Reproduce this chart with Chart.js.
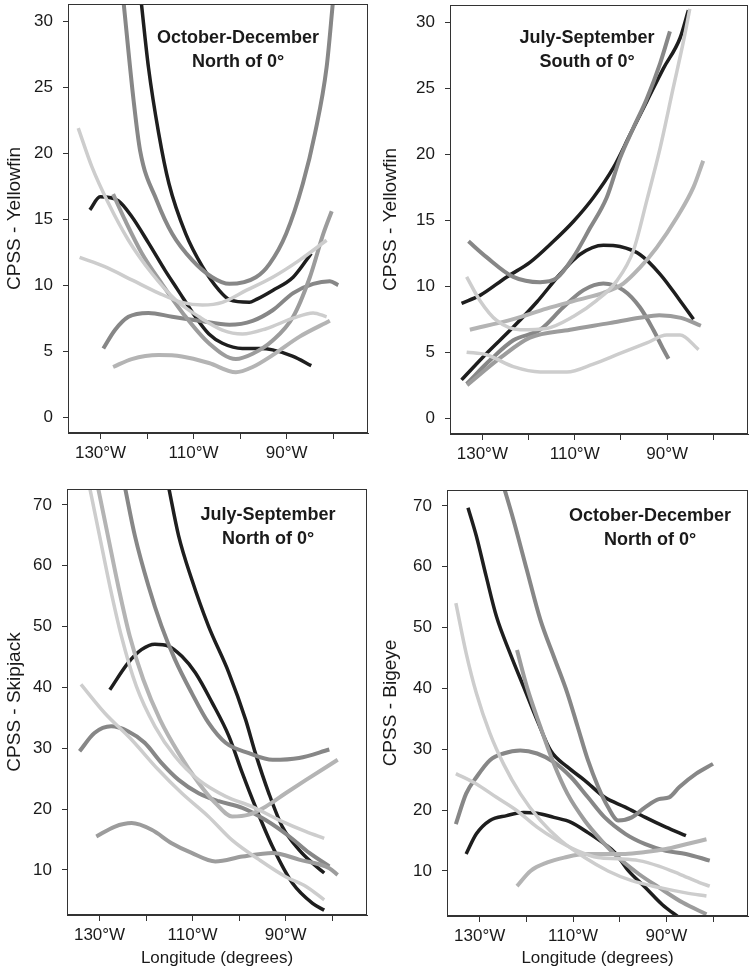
<!DOCTYPE html>
<html lang="en">
<head>
<meta charset="UTF-8">
<title>CPSS by longitude</title>
<script src="https://cdn.jsdelivr.net/npm/chart.js@4.4.1/dist/chart.umd.min.js"></script>
<style>
  body { margin: 0; background: #fff; }
  #wrap { position: relative; width: 753px; height: 972px; }
  .panel { position: absolute; }
</style>
</head>
<body>
<div id="wrap">
  <div class="panel" style="left:0;top:0;width:376px;height:486px"><canvas id="c1"></canvas></div>
  <div class="panel" style="left:376px;top:0;width:377px;height:486px"><canvas id="c2"></canvas></div>
  <div class="panel" style="left:0;top:486px;width:376px;height:486px"><canvas id="c3"></canvas></div>
  <div class="panel" style="left:376px;top:486px;width:377px;height:486px"><canvas id="c4"></canvas></div>
</div>
<script>
// ticks (longitude stored as negative = west)
const lonTicks = [-130, -120, -110, -100, -90, -80];
const lonLabels = ['130°W', '', '110°W', '', '90°W', ''];
const yTicksYellowfin = [0, 5, 10, 15, 20, 25, 30];
const yTicksLower = [10, 20, 30, 40, 50, 60, 70];

// ---- panel 1: Yellowfin, October-December, North of 0 ----
const p1OuterGrey = [[-125.1,31.6],[-122.9,24.0],[-121.5,20.2],[-117.9,16.4],[-114.6,13.9],[-110.3,11.9],[-106.0,10.6],[-102.3,10.1],[-96.6,10.6],[-93.7,11.6],[-90.1,13.9],[-86.5,17.7],[-83.9,21.5],[-81.4,26.5],[-80.0,31.6]];
const p1BlackU = [[-121.3,31.6],[-119.7,26.5],[-117.5,21.5],[-115.3,17.7],[-111.7,13.9],[-108.1,11.4],[-104.5,9.6],[-102.3,8.9],[-98.0,8.7],[-96.6,8.9],[-93.0,9.6],[-88.6,10.6],[-84.7,12.4]];
const p1BlackDown = [[-132.3,15.7],[-130.1,16.7],[-126.2,16.4],[-123.3,15.2],[-119.7,13.2],[-116.1,11.1],[-113.5,9.7],[-109.6,7.6],[-106.7,6.3],[-103.8,5.6],[-99.5,5.2],[-95.8,5.2],[-93.0,5.1],[-88.6,4.6],[-84.7,3.9]];
const p1GreyHump = [[-129.4,5.2],[-126.9,6.6],[-124.0,7.6],[-119.7,7.9],[-114.6,7.6],[-108.8,7.3],[-102.3,7.0],[-97.3,7.3],[-93.0,8.1],[-88.6,9.4],[-84.3,10.1],[-80.7,10.3],[-78.9,10.0]];
const p1LightLow = [[-127.3,3.8],[-123.3,4.4],[-117.5,4.7],[-112.5,4.6],[-106.7,4.1],[-100.9,3.4],[-97.3,3.8],[-93.0,4.7],[-87.2,6.1],[-80.7,7.3]];
const p1LightSteep = [[-127.3,16.9],[-124.7,14.9],[-121.1,12.4],[-116.8,10.1],[-111.7,7.6],[-106.7,5.6],[-100.9,4.4],[-97.3,4.8],[-93.0,5.8],[-88.6,7.6],[-85.0,10.6],[-82.1,13.9],[-80.3,15.6]];
const p1PaleHigh = [[-134.8,21.9],[-131.9,19.0],[-128.3,16.2],[-124.0,13.4],[-119.0,10.9],[-113.9,8.9],[-108.8,7.6],[-103.8,6.6],[-99.5,6.3],[-94.4,6.7],[-88.6,7.5],[-84.3,7.9],[-81.4,7.6]];
const p1PaleMid = [[-134.5,12.1],[-129.1,11.4],[-123.3,10.4],[-117.5,9.4],[-112.5,8.7],[-108.1,8.5],[-103.8,8.7],[-98.7,9.6],[-93.0,10.6],[-87.2,11.9],[-81.4,13.4]];

// ---- panel 2: Yellowfin, July-September, South of 0 ----
const p2BlackRise = [[-134.5,8.7],[-130.5,9.3],[-124.7,10.7],[-119.7,11.8],[-114.6,13.4],[-110.3,14.9],[-106.0,16.7],[-101.6,19.0],[-98.0,21.5],[-94.4,24.0],[-90.8,26.5],[-87.2,28.8],[-85.4,30.9]];
const p2GreyDip = [[-133.0,13.4],[-129.1,12.2],[-123.3,10.7],[-117.5,10.3],[-113.9,10.6],[-110.3,12.2],[-106.7,14.4],[-103.1,16.7],[-100.2,19.7],[-97.3,22.0],[-94.4,24.2],[-91.5,26.9],[-89.4,29.3]];
const p2BlackHump = [[-134.5,2.9],[-129.1,4.9],[-123.3,6.9],[-118.2,8.8],[-113.2,10.9],[-108.9,12.4],[-103.8,13.1],[-100.2,13.0],[-95.9,12.4],[-91.5,10.9],[-87.2,8.9],[-84.3,7.5]];
const p2PaleSteep = [[-133.4,10.7],[-130.5,8.9],[-126.9,7.4],[-121.8,6.7],[-116.1,6.8],[-110.3,7.7],[-105.3,8.9],[-100.9,10.4],[-97.3,12.7],[-94.4,16.5],[-91.5,20.5],[-88.7,25.0],[-86.5,28.5],[-85.1,31.0]];
const p2LightRise = [[-132.7,6.7],[-123.3,7.5],[-116.1,8.3],[-108.9,9.0],[-103.8,9.5],[-99.5,10.2],[-95.9,11.4],[-92.3,12.9],[-87.9,15.2],[-84.3,17.5],[-82.2,19.5]];
const p2GreyHump = [[-133.4,2.6],[-128.3,4.4],[-123.3,5.9],[-117.5,6.7],[-112.5,8.4],[-108.1,9.7],[-103.8,10.2],[-99.5,9.7],[-95.9,8.4],[-93.0,6.7],[-90.8,5.2],[-89.7,4.5]];
const p2GreyFlat = [[-133.3,2.5],[-126.0,4.6],[-119.7,6.1],[-111.0,6.7],[-102.5,7.2],[-96.0,7.6],[-91.7,7.8],[-87.0,7.6],[-82.7,7.0]];
const p2PaleLow = [[-133.4,5.0],[-129.1,4.8],[-123.3,3.9],[-117.5,3.5],[-111.7,3.5],[-106.0,4.1],[-100.2,4.9],[-94.4,5.7],[-90.1,6.3],[-87.2,6.3],[-83.2,5.2]];

// ---- panel 3: Skipjack, July-September, North of 0 ----
const p3BlackTop = [[-115.2,73.1],[-113.0,64.9],[-110.2,57.8],[-106.6,50.1],[-102.2,42.4],[-98.6,34.7],[-96.5,29.2],[-93.6,22.6],[-90.7,17.1],[-87.1,13.3],[-84.2,11.1],[-81.7,9.5]];
const p3BlackHump = [[-127.8,39.6],[-123.9,44.0],[-121.0,46.2],[-118.1,47.1],[-115.2,46.8],[-112.3,45.1],[-109.4,42.4],[-105.8,37.5],[-102.2,32.0],[-99.3,25.9],[-96.5,20.4],[-92.8,13.8],[-88.5,7.8],[-84.2,4.5],[-81.7,3.4]];
const p3GreyTop = [[-124.6,73.1],[-122.4,64.9],[-119.5,56.7],[-116.7,50.1],[-113.8,44.6],[-110.2,39.1],[-106.6,34.2],[-102.9,30.9],[-97.9,29.2],[-92.8,28.1],[-87.1,28.4],[-80.6,29.8]];
const p3LightU = [[-130.4,73.1],[-128.2,64.9],[-126.0,56.7],[-123.5,48.4],[-120.6,41.3],[-117.0,34.7],[-113.0,29.2],[-108.7,24.3],[-105.1,21.0],[-101.5,18.8],[-97.9,19.1],[-94.3,20.4],[-90.0,22.6],[-85.6,24.8],[-78.8,28.1]];
const p3PaleTop = [[-132.2,73.1],[-130.0,64.9],[-127.8,56.7],[-125.3,48.4],[-122.1,40.2],[-118.1,33.6],[-113.8,28.7],[-108.7,24.8],[-102.9,22.1],[-97.2,20.4],[-91.4,18.2],[-85.6,16.3],[-81.7,15.2]];
const p3GreyHump = [[-134.3,29.5],[-131.1,32.5],[-127.5,33.6],[-123.9,32.8],[-120.3,30.9],[-116.7,27.6],[-113.0,24.8],[-108.7,22.6],[-104.4,21.3],[-99.3,20.2],[-94.3,18.2],[-89.2,15.5],[-84.9,12.8],[-80.6,10.6]];
const p3PaleLine = [[-134.0,40.5],[-128.9,35.8],[-123.1,31.4],[-117.4,26.5],[-112.3,22.6],[-106.6,18.8],[-101.5,14.9],[-95.7,11.7],[-90.0,8.9],[-85.6,7.3],[-81.7,5.1]];
const p3GreyLow = [[-130.7,15.5],[-126.8,17.1],[-123.1,17.7],[-118.8,16.6],[-114.5,14.4],[-110.2,12.8],[-105.1,11.4],[-99.3,12.2],[-92.8,12.8],[-87.1,11.7],[-80.6,10.3],[-78.8,9.2]];

// ---- panel 4: Bigeye, October-December, North of 0 ----
const p4BlackTop = [[-132.5,69.7],[-130.7,65.0],[-128.6,58.4],[-126.4,51.8],[-123.5,45.8],[-120.6,40.3],[-117.7,34.8],[-114.8,29.8],[-111.2,27.1],[-107.5,24.9],[-103.2,22.1],[-98.8,20.5],[-94.5,18.8],[-90.1,17.2],[-85.8,15.8]];
const p4GreyU = [[-124.9,73.3],[-122.8,67.8],[-119.9,59.5],[-117.0,51.3],[-114.1,45.2],[-111.2,39.2],[-109.0,33.7],[-106.8,28.2],[-104.6,23.8],[-102.5,20.5],[-100.3,18.3],[-97.4,18.8],[-94.5,20.5],[-91.6,21.8],[-89.4,22.1],[-87.2,23.8],[-83.6,26.0],[-80.0,27.6]];
const p4PaleSteep = [[-135.1,54.0],[-132.9,45.8],[-130.7,39.2],[-127.8,32.6],[-124.9,27.6],[-121.3,22.7],[-117.0,18.3],[-112.6,15.0],[-107.5,12.2],[-102.5,10.0],[-97.4,8.4],[-91.6,7.3],[-85.8,6.4],[-81.4,5.9]];
const p4LightSteep = [[-122.0,46.3],[-119.9,40.3],[-117.0,33.7],[-114.1,27.6],[-111.2,22.7],[-107.5,18.3],[-103.9,15.0],[-100.3,12.2],[-95.9,9.5],[-91.6,7.3],[-86.5,4.8],[-81.4,2.9]];
const p4BlackLow = [[-132.9,12.8],[-130.7,16.1],[-127.8,18.3],[-124.2,19.1],[-120.6,19.6],[-117.7,19.5],[-114.1,18.8],[-110.4,18.0],[-106.8,16.3],[-103.2,14.4],[-101.0,13.0],[-98.1,10.0],[-94.5,7.3],[-90.9,4.5],[-87.2,2.3]];
const p4GreyHump = [[-135.1,17.7],[-132.9,22.7],[-130.7,25.4],[-127.8,28.2],[-124.9,29.3],[-121.3,29.8],[-117.7,29.3],[-114.1,27.9],[-110.4,25.4],[-106.8,22.1],[-103.2,18.8],[-98.8,16.1],[-94.5,14.4],[-90.1,13.3],[-85.8,12.8],[-80.7,11.7]];
const p4PaleDown = [[-135.1,26.0],[-130.7,24.3],[-126.4,22.1],[-122.0,19.9],[-117.7,17.2],[-113.3,15.0],[-109.0,13.3],[-104.6,12.2],[-100.3,12.0],[-95.9,11.7],[-91.6,10.8],[-87.2,9.5],[-82.9,8.1],[-80.7,7.5]];
const p4LightRise = [[-122.0,7.5],[-119.1,10.0],[-115.5,11.4],[-111.9,12.2],[-107.5,12.8],[-103.2,12.8],[-98.8,12.8],[-94.5,13.1],[-90.1,13.6],[-85.8,14.4],[-81.4,15.2]];

const BLACK = '#1e1e1e', GREY = '#878787', GREY2 = '#9c9c9c', LIGHT = '#b4b4b4', PALE = '#cdcdcd';

function ds(data, color, w) {
  return { data: data, borderColor: color, borderWidth: w, pointRadius: 0,
           cubicInterpolationMode: 'monotone', tension: 0.4, fill: false };
}

// frame round the plot + in-plot title
const panelDeco = {
  id: 'panelDeco',
  afterDraw(chart, args, opts) {
    const { ctx, chartArea: a } = chart;
    ctx.save();
    ctx.strokeStyle = '#333';
    ctx.lineWidth = 1;
    ctx.strokeRect(a.left + 0.5, a.top + 0.5, a.right - a.left - 1, a.bottom - a.top - 1);
    ctx.fillStyle = '#1a1a1a';
    ctx.font = 'bold 18px "Liberation Sans", Arial, sans-serif';
    ctx.textAlign = 'center';
    ctx.textBaseline = 'middle';
    opts.lines.forEach((t, i) => ctx.fillText(t, a.left + opts.cx, a.top + opts.cy + i * 24));
    ctx.restore();
  }
};

function makePanel(id, p) {
  const font = { family: '"Liberation Sans", Arial, sans-serif', size: 17 };
  const titleFont = { family: '"Liberation Sans", Arial, sans-serif', size: 19 };
  new Chart(document.getElementById(id), {
    type: 'line',
    data: { datasets: p.datasets },
    plugins: [panelDeco],
    options: {
      responsive: true, maintainAspectRatio: false, animation: false,
      layout: { padding: { top: p.top, right: p.right, left: 0, bottom: 0 } },
      plugins: { legend: { display: false }, tooltip: { enabled: false },
                 panelDeco: { lines: p.title, cx: p.cx, cy: p.cy } },
      scales: {
        x: {
          type: 'linear', min: -137, max: -72.5,
          afterFit: s => { s.height = p.xh; s.paddingLeft = 0; s.paddingRight = 0; },
          afterBuildTicks: s => { s.ticks = lonTicks.map(v => ({ value: v })); },
          ticks: { autoSkip: false, maxRotation: 0, color: '#1a1a1a', font: font, padding: 4,
                   callback: v => lonLabels[lonTicks.indexOf(v)] },
          grid: { display: true, drawOnChartArea: false, drawTicks: true, tickLength: 6, color: '#333' },
          border: { display: true, color: '#333' },
          title: { display: !!p.xTitle, text: p.xTitle || '', color: '#1a1a1a',
                   font: font, padding: { top: 0, bottom: 3 } }
        },
        y: {
          type: 'linear', min: p.ymin, max: p.ymax,
          afterFit: s => { s.width = p.yw; s.paddingTop = 0; s.paddingBottom = 0; },
          afterBuildTicks: s => { s.ticks = p.yTicks.map(v => ({ value: v })); },
          ticks: { color: '#1a1a1a', font: font, padding: 10 },
          grid: { display: true, drawOnChartArea: false, drawTicks: true, tickLength: 5, color: '#333' },
          border: { display: true, color: '#333' },
          title: { display: true, text: p.yTitle, color: '#1a1a1a', font: titleFont, padding: { top: 3, bottom: 0 } }
        }
      }
    }
  });
}

makePanel('c1', {
  top: 4, right: 8, yw: 68, xh: 53, ymin: -1.2, ymax: 31.3, yTicks: yTicksYellowfin,
  yTitle: 'CPSS - Yellowfin', title: ['October-December', 'North of 0°'], cx: 170, cy: 34,
  datasets: [ds(p1PaleHigh, PALE, 3.5), ds(p1PaleMid, PALE, 3.5), ds(p1LightLow, LIGHT, 4),
             ds(p1LightSteep, GREY2, 4), ds(p1GreyHump, GREY, 4), ds(p1OuterGrey, GREY, 4),
             ds(p1BlackU, BLACK, 3.5), ds(p1BlackDown, BLACK, 3.5)]
});
makePanel('c2', {
  top: 5, right: 5, yw: 74, xh: 52, ymin: -1.2, ymax: 31.3, yTicks: yTicksYellowfin,
  yTitle: 'CPSS - Yellowfin', title: ['July-September', 'South of 0°'], cx: 137, cy: 33,
  datasets: [ds(p2PaleSteep, PALE, 3.5), ds(p2PaleLow, PALE, 3.5), ds(p2LightRise, LIGHT, 4),
             ds(p2GreyFlat, GREY2, 4), ds(p2GreyHump, GREY, 4), ds(p2GreyDip, GREY, 4),
             ds(p2BlackRise, BLACK, 3.5), ds(p2BlackHump, BLACK, 3.5)]
});
makePanel('c3', {
  top: 3, right: 9, yw: 67, xh: 57, ymin: 2.6, ymax: 72.6, yTicks: yTicksLower,
  yTitle: 'CPSS - Skipjack', xTitle: 'Longitude (degrees)', title: ['July-September', 'North of 0°'], cx: 201, cy: 26,
  datasets: [ds(p3PaleTop, PALE, 3.5), ds(p3PaleLine, PALE, 3.5), ds(p3LightU, LIGHT, 4),
             ds(p3GreyLow, GREY2, 4), ds(p3GreyHump, GREY, 4), ds(p3GreyTop, GREY, 4),
             ds(p3BlackTop, BLACK, 3.5), ds(p3BlackHump, BLACK, 3.5)]
});
makePanel('c4', {
  top: 4, right: 5, yw: 71, xh: 56, ymin: 2.6, ymax: 72.6, yTicks: yTicksLower,
  yTitle: 'CPSS - Bigeye', xTitle: 'Longitude (degrees)', title: ['October-December', 'North of 0°'], cx: 203, cy: 26,
  datasets: [ds(p4PaleSteep, PALE, 3.5), ds(p4PaleDown, PALE, 3.5), ds(p4LightRise, LIGHT, 4),
             ds(p4LightSteep, GREY2, 4), ds(p4GreyHump, GREY, 4), ds(p4GreyU, GREY, 4),
             ds(p4BlackTop, BLACK, 3.5), ds(p4BlackLow, BLACK, 3.5)]
});
</script>
</body>
</html>
